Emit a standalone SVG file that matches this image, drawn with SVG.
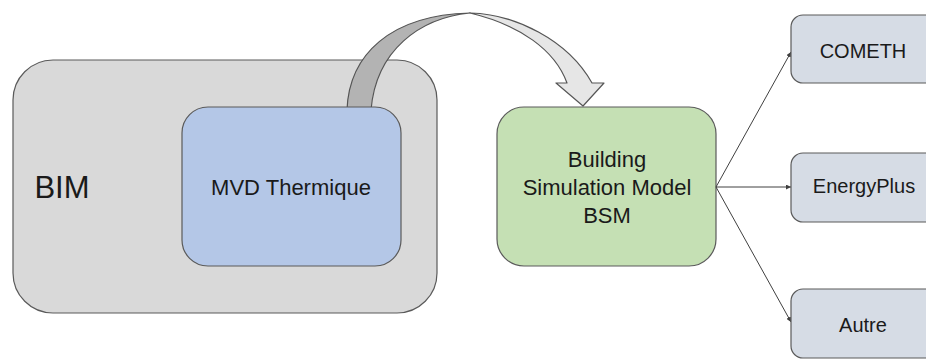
<svg xmlns="http://www.w3.org/2000/svg" width="926" height="360" viewBox="0 0 926 360">
<defs>
<style>
.box{stroke:#5a5a5a;stroke-width:1.2}
.t{font-family:"Liberation Sans",Arial,sans-serif;fill:#1a1a1a;text-anchor:middle}
.conn{stroke:#404040;stroke-width:1;fill:none;marker-end:url(#ah)}
</style>
<marker id="ah" viewBox="0 0 8 8" refX="8" refY="4" markerWidth="5" markerHeight="5" orient="auto" markerUnits="userSpaceOnUse">
<path d="M0,0 L8,4 L0,8 Z" fill="#404040"/>
</marker>
</defs>
<rect width="926" height="360" fill="#ffffff"/>
<g id="bim">
<rect class="box" x="13" y="60" width="424" height="253" rx="40" fill="#d9d9d9"/>
<text class="t" x="62" y="198" font-size="31">BIM</text>
</g>
<g id="curved-arrow">
<path d="M347,110 C349,55 390,15 470,13 C420,18 376,50 371,110 Z" fill="#b3b3b3" stroke="#555" stroke-width="1.2" stroke-linejoin="round"/>
<path d="M470,13 C515,14 568,40 592,83 L604,83 L583,106 L556,83 L567,83 C555,50 520,25 470,13 Z" fill="#e6e6e6" stroke="#555" stroke-width="1.2" stroke-linejoin="round"/>
</g>
<g id="mvd">
<rect class="box" x="182" y="107" width="219" height="159" rx="26" fill="#b4c7e7"/>
<text class="t" x="291" y="195" font-size="22">MVD Thermique</text>
</g>
<g id="bsm">
<rect class="box" x="497" y="107" width="219" height="159" rx="27" fill="#c5e0b4"/>
<text class="t" x="607" y="167" font-size="22">Building</text>
<text class="t" x="607" y="195" font-size="22">Simulation Model</text>
<text class="t" x="607" y="223" font-size="22">BSM</text>
</g>
<g id="connectors">
<line class="conn" x1="716" y1="187" x2="791" y2="52"/>
<line class="conn" x1="716" y1="187" x2="791" y2="187"/>
<line class="conn" x1="716" y1="187" x2="791" y2="322"/>
</g>
<g id="cometh">
<rect class="box" x="791" y="15" width="150" height="68" rx="12" fill="#d6dce5"/>
<text class="t" x="863" y="58" font-size="20">COMETH</text>
</g>
<g id="energyplus">
<rect class="box" x="791" y="153" width="150" height="69" rx="12" fill="#d6dce5"/>
<text class="t" x="864" y="193" font-size="20">EnergyPlus</text>
</g>
<g id="autre">
<rect class="box" x="791" y="289" width="150" height="69" rx="12" fill="#d6dce5"/>
<text class="t" x="863" y="332" font-size="20">Autre</text>
</g>
</svg>
